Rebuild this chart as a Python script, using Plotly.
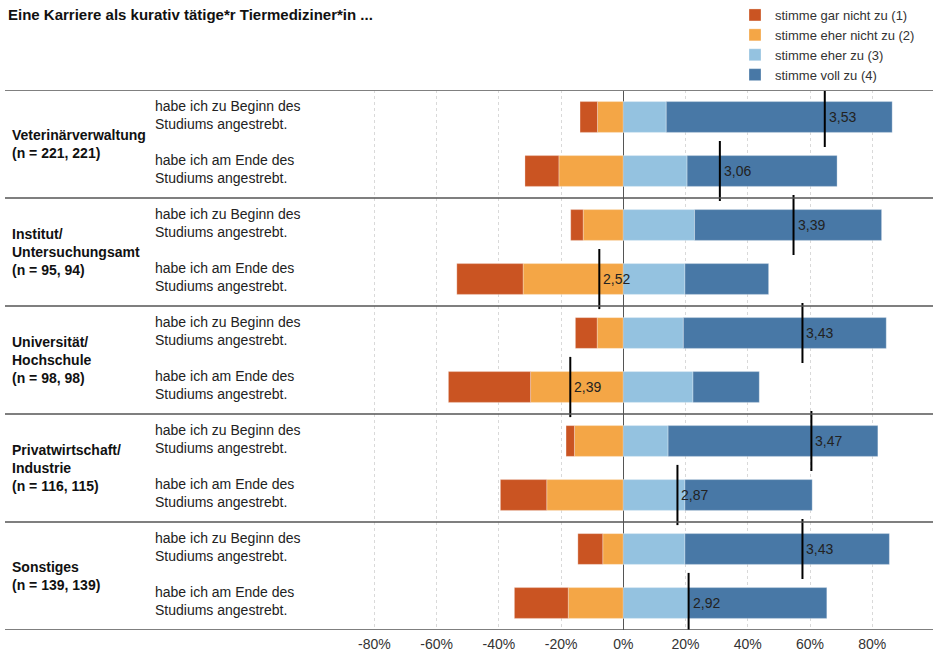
import plotly.graph_objects as go

# ---- data ----
groups = ["Veterinärverwaltung<br>(n = 221, 221)",
          "Institut/<br>Untersuchungsamt<br>(n = 95, 94)",
          "Universität/<br>Hochschule<br>(n = 98, 98)",
          "Privatwirtschaft/<br>Industrie<br>(n = 116, 115)",
          "Sonstiges<br>(n = 139, 139)"]
row_labels = ["habe ich zu Beginn des<br>Studiums angestrebt.",
              "habe ich am Ende des<br>Studiums angestrebt."] * 5
series_names = ["stimme gar nicht zu (1)", "stimme eher nicht zu (2)",
                "stimme eher zu (3)", "stimme voll zu (4)"]
v1 = [5.6, 10.9, 4.0, 21.3, 7.0, 26.4, 2.7, 14.9, 8.0, 17.3]
v2 = [8.3, 20.7, 12.9, 32.2, 8.4, 29.8, 15.7, 24.6, 6.6, 17.7]
v3 = [13.8, 20.5, 22.9, 19.8, 19.3, 22.4, 14.4, 19.8, 19.8, 20.9]
v4 = [72.6, 48.2, 60.1, 26.9, 65.2, 21.3, 67.4, 40.9, 65.7, 44.5]
means = [3.53, 3.06, 3.39, 2.52, 3.43, 2.39, 3.47, 2.87, 3.43, 2.92]
tick_vals = [-80, -60, -40, -20, 0, 20, 40, 60, 80]
tick_text = ["-80%", "-60%", "-40%", "-20%", "0%", "20%", "40%", "60%", "80%"]

colors = ["#CA5422", "#F4A646", "#94C2E0", "#4878A6"]
FONT = "Liberation Sans, Arial, sans-serif"
W, H = 933, 653

rows = list(range(len(v1)))
fig = go.Figure()

# relative barmode: first negative trace sits next to zero
neg2 = [-v for v in v2]
neg1 = [-v for v in v1]
bar_specs = [(neg2, 1, 2), (neg1, 0, 1), (v3, 2, 3), (v4, 3, 4)]
for vals, idx, rank in bar_specs:
    fig.add_trace(go.Bar(
        x=vals, y=rows, orientation="h", name=series_names[idx],
        marker=dict(color=colors[idx], line=dict(color="rgba(255,255,255,0.6)", width=0.5)),
        width=0.57, legendrank=rank, hoverinfo="skip"))

# mean markers on a 1..4 scale axis
fig.add_trace(go.Scatter(
    x=means, y=rows, xaxis="x2", mode="markers", showlegend=False,
    marker=dict(symbol="line-ns", size=43, line=dict(color="black", width=2)),
    hoverinfo="skip"))

left_px, right_px = 260.0, 929.7
zero_px, px_per = 623.3, 3.112
dom = [left_px / W, right_px / W]
xr = [(left_px - zero_px) / px_per, (right_px - zero_px) / px_per]

shapes = []
for k, yb in enumerate([-0.5, 1.5, 3.5, 5.5, 7.5, 9.5]):
    shapes.append(dict(type="line", xref="paper", yref="y", x0=5 / W, x1=1,
                       y0=yb, y1=yb,
                       line=dict(color="#808080" if k == 0 else "#555", width=2 if k == 0 else 1.5)))

annotations = []
for m, r in zip(means, rows):
    annotations.append(dict(xref="x2", yref="y", x=m, y=r, xanchor="left", yanchor="middle",
                            xshift=2, text=f"{m:.2f}".replace(".", ","), showarrow=False,
                            font=dict(family=FONT, size=14, color="#222")))
for g, lab in enumerate(groups):
    annotations.append(dict(xref="paper", yref="y", x=10 / W, y=2 * g + 0.5,
                            xanchor="left", yanchor="middle", align="left",
                            text="<b>" + lab + "</b>", showarrow=False,
                            font=dict(family=FONT, size=14, color="#111")))
for r, lab in enumerate(row_labels):
    annotations.append(dict(xref="paper", yref="y", x=153 / W, y=r - 0.04,
                            xanchor="left", yanchor="middle", align="left",
                            text=lab, showarrow=False,
                            font=dict(family=FONT, size=14, color="#222")))

fig.update_layout(
    width=W, height=H,
    margin=dict(l=0, r=0, t=90, b=23),
    paper_bgcolor="white", plot_bgcolor="white",
    barmode="relative", bargap=0.43,
    font=dict(family=FONT, size=14, color="#333"),
    title=dict(text="<b>Eine Karriere als kurativ tätige*r Tiermediziner*in ...</b>",
               x=8 / W, xanchor="left", y=1 - 15 / H, yanchor="middle",
               font=dict(family=FONT, size=15, color="#111")),
    xaxis=dict(domain=dom, range=xr, tickvals=tick_vals, ticktext=tick_text,
               showgrid=True, gridcolor="#d9d9d9", griddash="dot", gridwidth=1,
               zeroline=True, zerolinecolor="#555", zerolinewidth=1,
               showline=False, ticks="", ticklabelstandoff=4,
               tickfont=dict(family=FONT, size=14, color="#333"),
               fixedrange=True),
    xaxis2=dict(domain=dom, range=[1, 4], overlaying="x", visible=False, fixedrange=True),
    yaxis=dict(range=[9.5, -0.5], visible=False, showgrid=False, zeroline=False, fixedrange=True),
    legend=dict(x=(775 - 40) / W, xanchor="left", y=1 + 90 / 540, yanchor="top",
                traceorder="normal", font=dict(family=FONT, size=13, color="#333"),
                bgcolor="rgba(0,0,0,0)", itemclick=False, itemdoubleclick=False,
                tracegroupgap=0),
    shapes=shapes, annotations=annotations, showlegend=True,
)

fig.write_html("out.html", config={"displayModeBar": False},
               post_script="document.body.style.margin='0';")
